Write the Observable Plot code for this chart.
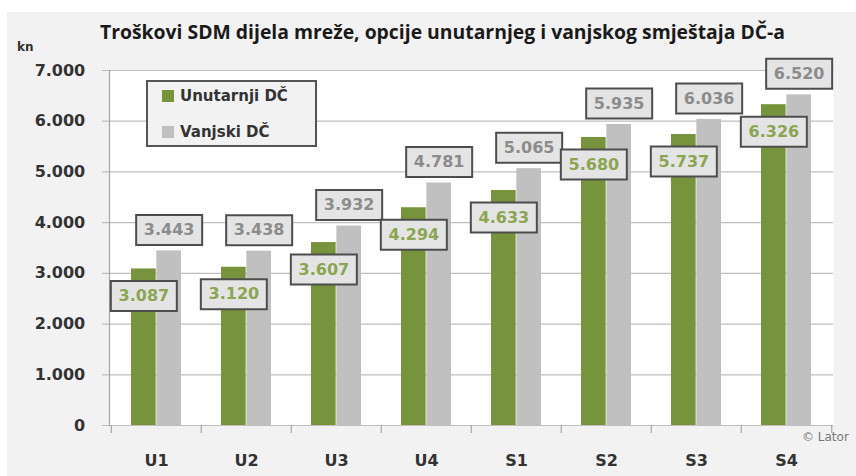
<!DOCTYPE html>
<html>
<head>
<meta charset="utf-8">
<script src="https://cdn.jsdelivr.net/npm/d3@7"></script>
<script src="https://cdn.jsdelivr.net/npm/@observablehq/plot@0.6"></script>
<style>
  html, body { margin: 0; padding: 0; background: #ffffff; }
  #wrap { position: relative; width: 856px; height: 476px; overflow: hidden; background: #ffffff; }
  #bg { position: absolute; left: 7px; top: 12px; right: 0; bottom: 0; background: #f2f2f2; }
  #chart { position: absolute; left: 0; top: 0; }
  #title { position: absolute; left: 100px; top: 32px; transform: translateY(-50%); font-family: "Open Sans", sans-serif; font-weight: bold; font-size: 18px; color: #1a1a1a; white-space: nowrap; line-height: 1; }
  #unit { position: absolute; left: 17px; top: 40px; font-family: "DejaVu Sans", sans-serif; font-weight: bold; font-size: 12px; color: #333; }
  #legend { position: absolute; left: 146px; top: 80px; width: 167px; height: 63px; border: 2px solid #555; background: #f2f2f2; font-family: "DejaVu Sans", sans-serif; font-weight: bold; font-size: 15px; color: #333; }
  .item { position: absolute; left: 14px; display: flex; align-items: center; white-space: nowrap; }
  .sw { width: 12px; height: 12px; margin-right: 6px; }
  #credit { position: absolute; left: 802px; top: 430px; font-family: "DejaVu Sans", sans-serif; font-size: 12px; color: #777; white-space: nowrap; }
</style>
</head>
<body>
<div id="wrap">
  <div id="bg"></div>
  <div id="chart"></div>
  <div id="title"></div>
  <div id="unit"></div>
  <div id="legend"></div>
  <div id="credit"></div>
</div>
<script>
// ---- data ----
const categories = ["U1", "U2", "U3", "U4", "S1", "S2", "S3", "S4"];
const unutarnji = [3087, 3120, 3607, 4294, 4633, 5680, 5737, 6326];
const vanjski = [3443, 3438, 3932, 4781, 5065, 5935, 6036, 6520];
const seriesNames = ["Unutarnji DČ", "Vanjski DČ"];
const yTicks = [0, 1000, 2000, 3000, 4000, 5000, 6000, 7000];
const titleText = "Troškovi SDM dijela mreže, opcije unutarnjeg i vanjskog smještaja DČ-a";
const unitText = "kn";
const creditText = "© Lator";

// ---- styling ----
const colors = ["#77933c", "#c0c0c0"];
const labelColors = ["#8ba552", "#8c8c8c"];

const W = 856, H = 476;
const mL = 109, mR = 23, mT = 70, mB = 51;
const padInner = 0.44, padOuter = 0.22;
const plotW = W - mL - mR, plotH = H - mT - mB;
const step = plotW / categories.length;
const bw = step * (1 - padInner);

const loc = d3.formatLocale({decimal: ",", thousands: ".", grouping: [3], currency: ["", ""]});
const fmt = loc.format(",d");

const dataU = categories.map((c, i) => ({cat: c, v: unutarnji[i]}));
const dataV = categories.map((c, i) => ({cat: c, v: vanjski[i]}));

const boxSymbol = {draw(ctx) { ctx.rect(-33, -15, 66, 30); }};

const plot = Plot.plot({
  width: W, height: H,
  marginLeft: mL, marginRight: mR, marginTop: mT, marginBottom: mB,
  style: {fontFamily: "DejaVu Sans, sans-serif", background: "transparent", overflow: "visible"},
  x: {domain: categories, paddingInner: padInner, paddingOuter: padOuter, axis: null},
  y: {domain: [0, 7000], axis: null},
  marks: [
    Plot.frame({fill: "white", stroke: null}),
    Plot.ruleY(yTicks, {stroke: "#bfbfbf", strokeWidth: 1.2, insetLeft: -7}),
    Plot.frame({anchor: "left", stroke: "#a6a6a6", strokeWidth: 1.2}),
    Plot.ruleX(categories, {x: d => d, dx: -step / 2, insetTop: plotH, insetBottom: -8, stroke: "#a6a6a6", strokeWidth: 1.2}),
    Plot.ruleX(categories.slice(-1), {x: d => d, dx: step / 2, insetTop: plotH, insetBottom: -8, stroke: "#a6a6a6", strokeWidth: 1.2}),
    Plot.barY(dataU, {x: "cat", y: "v", fill: colors[0], insetRight: bw / 2}),
    Plot.barY(dataV, {x: "cat", y: "v", fill: colors[1], insetLeft: bw / 2}),
    Plot.text(yTicks, {x: () => categories[0], y: d => d, text: d => fmt(d), textAnchor: "end", dx: -(step * padOuter + bw / 2) - 26, fontSize: 16, fontWeight: "bold", fill: "#333"}),
    Plot.text(categories, {x: d => d, y: 0, text: d => d, dy: 35, fontSize: 16, fontWeight: "bold", fill: "#333"}),
    Plot.dot(dataV, {x: "cat", y: "v", dx: bw / 4, dy: -21, symbol: boxSymbol, r: 5, fill: "#e4e4e4", stroke: "#4d4d4d", strokeWidth: 2}),
    Plot.text(dataV, {x: "cat", y: "v", text: d => fmt(d.v), dx: bw / 4, dy: -21, fontSize: 16, fontWeight: "bold", fill: labelColors[1]}),
    Plot.dot(dataU, {x: "cat", y: "v", dx: -bw / 4, dy: 27, symbol: boxSymbol, r: 5, fill: "#e4e4e4", stroke: "#4d4d4d", strokeWidth: 2}),
    Plot.text(dataU, {x: "cat", y: "v", text: d => fmt(d.v), dx: -bw / 4, dy: 27, fontSize: 16, fontWeight: "bold", fill: labelColors[0]})
  ]
});
document.getElementById("chart").appendChild(plot);

const titleEl = document.getElementById("title");
titleEl.textContent = titleText;
// fit the title to the reference's span (x 100 → 785)
const w0 = titleEl.getBoundingClientRect().width;
if (w0 > 0) titleEl.style.fontSize = (18 * 685 / w0).toFixed(2) + "px";

document.getElementById("unit").textContent = unitText;
document.getElementById("credit").textContent = creditText;

const legend = document.getElementById("legend");
seriesNames.forEach((name, i) => {
  const item = document.createElement("div");
  item.className = "item";
  item.style.top = (i === 0 ? 5 : 41) + "px";
  const sw = document.createElement("span");
  sw.className = "sw";
  sw.style.background = colors[i];
  const t = document.createElement("span");
  t.textContent = name;
  item.appendChild(sw);
  item.appendChild(t);
  legend.appendChild(item);
});
</script>
</body>
</html>
